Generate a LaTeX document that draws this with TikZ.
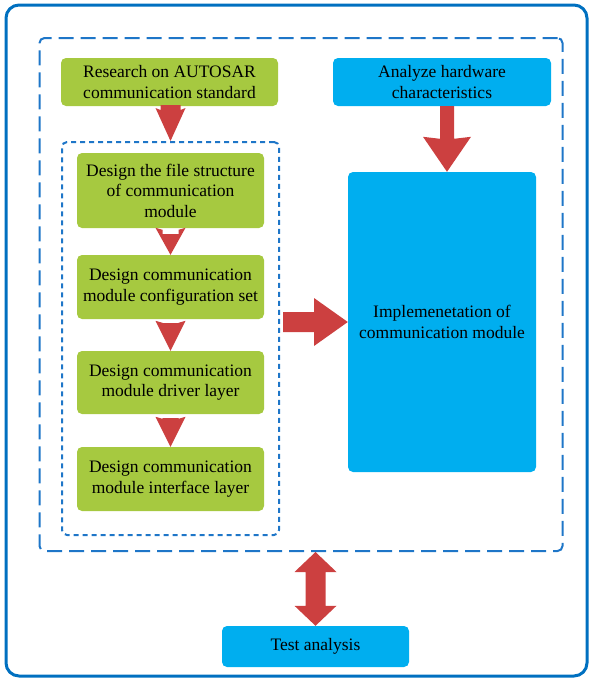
\documentclass[tikz,border=0pt]{standalone}
\usepackage{fontspec}
\setmainfont{Liberation Serif}
\usetikzlibrary{calc}
\definecolor{framebl}{RGB}{0,112,192}
\definecolor{dashbl}{RGB}{30,118,200}
\definecolor{leaf}{RGB}{166,201,64}
\definecolor{sky}{RGB}{0,174,239}
\definecolor{arrowred}{RGB}{204,64,64}
\tikzset{
  greenbox/.style={fill=leaf, rounded corners=5pt, inner sep=0pt, align=center,
    font=\fontsize{17.5}{20.5}\selectfont},
  bluebox/.style={fill=sky, rounded corners=5pt, inner sep=0pt, align=center,
    font=\fontsize{17.5}{20.5}\selectfont},
  groupbox/.style={draw=dashbl, line width=2pt, rounded corners=5pt, inner sep=0pt},
  fatarrow/.style={fill=arrowred, draw=none},
}
% block arrow pointing down: from node anchor #1 to node anchor #2,
% shaft half width #3, head half width #4, head length #5
\newcommand\fatdown[5]{%
  \path[fatarrow] let \p1=(#1), \p2=(#2) in
    (\x2-#3,\y1) -- (\x2+#3,\y1) -- (\x2+#3,\y2+#5) -- (\x2+#4,\y2+#5+2pt)
    -- (\x2,\y2) -- (\x2-#4,\y2+#5+2pt) -- (\x2-#3,\y2+#5) -- cycle;}
\begin{document}
\begin{tikzpicture}[x=1pt,y=-1pt]
\useasboundingbox (0,0) rectangle (590,678);
% outer frame
\draw[framebl, line width=3pt, rounded corners=13pt] (6,5) rectangle (587,676);

% dashed groups
\node[groupbox, dash pattern=on 15pt off 7pt, minimum width=523, minimum height=513]
  (outer) at (301,294.5) {};
\node[groupbox, dash pattern=on 5pt off 4pt, minimum width=217, minimum height=393]
  (inner) at (170.5,338.5) {};

% boxes
\node[greenbox, minimum width=217, minimum height=48] (r1) at (169.5,82)
  {Research on AUTOSAR\\communication standard};
\node[bluebox, minimum width=218, minimum height=48] (a1) at (442,82)
  {Analyze hardware\\characteristics};
\node[greenbox, minimum width=187, minimum height=75] (d1) at (170.5,190.5)
  {Design the file structure\\of communication\\module};
\node[greenbox, minimum width=187, minimum height=64] (d2) at (170.5,287)
  {Design communication\\module configuration set};
\node[greenbox, minimum width=187, minimum height=63] (d3) at (170.5,382.5)
  {Design communication\\module driver layer};
\node[greenbox, minimum width=187, minimum height=64] (d4) at (170.5,479)
  {Design communication\\module interface layer};
\node[bluebox, minimum width=188, minimum height=300] (imp) at (442,322)
  {Implemenetation of\\communication module};
\node[bluebox, minimum width=187, minimum height=41] (test) at (315.5,646.5)
  {Test analysis};

% down arrows
\fatdown{$(r1.south)+(0,-1)$}{inner.north}{10pt}{15pt}{31pt}
\fatdown{$(d1.south)+(0,6)$}{d2.north}{8pt}{15pt}{25pt}
\fatdown{$(d2.south)+(0,4)$}{d3.north}{8pt}{15pt}{28pt}
\fatdown{$(d3.south)+(0,4)$}{d4.north}{8pt}{15pt}{28pt}
\fatdown{a1.south}{$(imp.north)+(5,0)$}{7pt}{24pt}{33pt}

% arrow from the design group to the implementation
\path[fatarrow] let \p1=($(inner.east)+(3,-16)$), \p2=(imp.west) in
  (\x1,\y2+10pt) -- (\x1+31pt,\y2+10pt) -- (\x1+31pt,\y2+24pt) -- (\x2,\y2)
  -- (\x1+31pt,\y2-24pt) -- (\x1+31pt,\y2-10pt) -- (\x1,\y2-10pt) -- cycle;

% two-way arrow between the design stage and the test
\path[fatarrow] let \p1=(outer.south), \p2=(test.north) in
  (\x2,\y1) -- (\x2+21pt,\y1-20pt) -- (\x2+10pt,\y1-20pt) -- (\x2+10pt,\y2+20pt)
  -- (\x2+21pt,\y2+20pt) -- (\x2,\y2) -- (\x2-21pt,\y2+20pt) -- (\x2-10pt,\y2+20pt)
  -- (\x2-10pt,\y1-20pt) -- (\x2-21pt,\y1-20pt) -- cycle;
\end{tikzpicture}
\end{document}
